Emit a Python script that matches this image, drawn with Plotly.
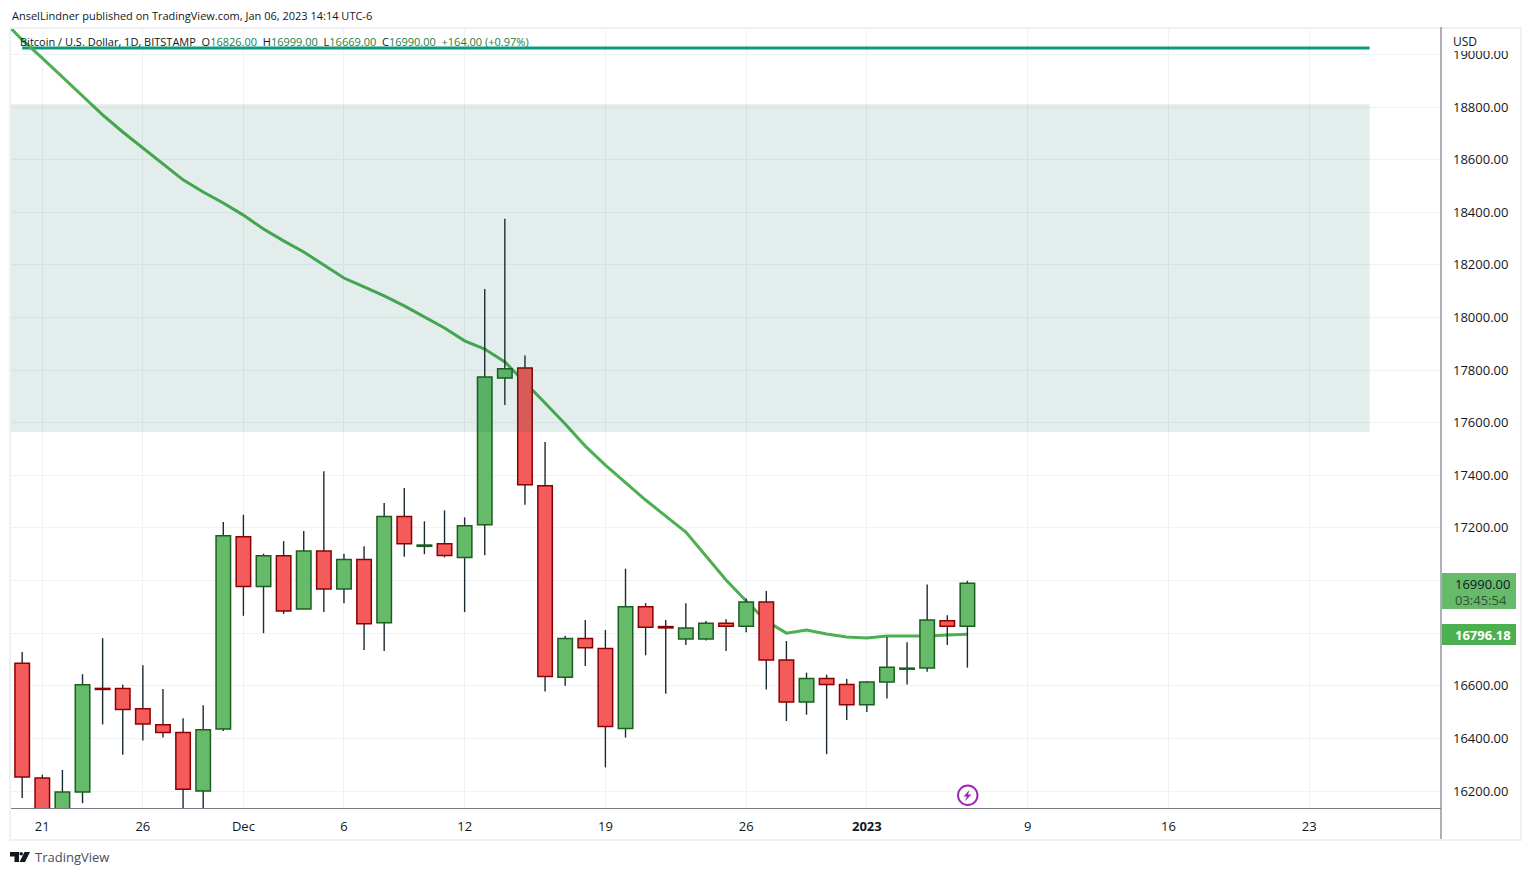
import plotly.graph_objects as go
import pandas as pd

start_date = "2022-11-20"
opens = [16686,16249,16130,16196,16590,16590,16513,16452,16422,16200,16436,17166,16977,17094,16892,17112,16968,17080,16840,17243,17130,17140,17088,17212,17770,17808,17360,16632,16780,16742,16438,16900,16825,16778,16778,16838,16826,16918,16698,16538,16628,16605,16528,16614,16663,16668,16847,16826]
highs = [16728,16262,16280,16644,16781,16604,16678,16588,16477,16526,17223,17250,17102,17150,17188,17415,17102,17130,17295,17352,17225,17267,17240,18108,18375,17855,17527,16790,16850,16812,17045,16914,16850,16914,16846,16853,16932,16960,16770,16650,16642,16626,16618,16785,16765,16985,16868,16999]
lows = [16173,16100,16100,16154,16453,16338,16392,16403,16130,16120,16428,16866,16800,16873,16892,16880,16914,16736,16732,17090,17100,17088,16880,17096,17667,17288,16578,16600,16675,16290,16403,16716,16570,16755,16772,16732,16803,16586,16466,16490,16340,16470,16500,16552,16605,16653,16755,16669]
closes = [16253,16130,16196,16604,16586,16510,16455,16422,16207,16433,17170,16977,17094,16884,17112,16968,17080,16836,17243,17140,17135,17095,17208,17774,17805,17364,16635,16780,16745,16445,16900,16822,16820,16820,16838,16826,16918,16698,16538,16628,16605,16528,16614,16670,16667,16850,16826,16990]
ma_start = "2022-11-19"
ma_values = [19134,19055,18986,18914,18842,18770,18705,18644,18583,18523,18477,18435,18389,18336,18291,18249,18199,18150,18116,18082,18044,18002,17960,17911,17880,17831,17755,17675,17595,17511,17439,17374,17306,17245,17184,17093,17002,16922,16846,16800,16812,16797,16785,16782,16789,16789,16789,16793,16796.18]
tick_dates = ["2022-11-21","2022-11-26","2022-12-01","2022-12-06","2022-12-12","2022-12-19","2022-12-26","2023-01-01","2023-01-09","2023-01-16","2023-01-23"]
tick_labels = ["21","26","Dec","6","12","19","26","<b>2023</b>","9","16","23"]
x_range = ["2022-11-19 09:27","2023-01-29 13:12"]
y_range = [16135.4,19104.1]
price_ticks = [16200+200*i for i in range(15)]
zone_low, zone_high = 17565, 18810
zone_end = "2023-01-26"
level = 19024
last_close = 16990.00
last_ma = 16796.18

FONT = "Open Sans"
INK = "#131722"
W, H = 1531, 875
L, R, T, B = 10, 1441, 27, 808
px = lambda x: (x - L) / (R - L)
py = lambda y: (B - y) / (B - T)

dates = pd.date_range(start_date, periods=len(opens)).strftime("%Y-%m-%d").tolist()
ma_dates = pd.date_range(ma_start, periods=len(ma_values)).strftime("%Y-%m-%d").tolist()

wx, wy = [], []
for d, h, l in zip(dates, highs, lows):
    wx += [d, d, None]
    wy += [l, h, None]

up = [c >= o for o, c in zip(opens, closes)]
fill = ["#66bb6a" if u else "#f45c5c" for u in up]
edge = ["#1b5e20" if u else "#8b0000" for u in up]

fig = go.Figure()
fig.add_trace(go.Scatter(x=[dates[0], zone_end], y=[level, level], mode="lines",
                         line=dict(color="#0f9a80", width=3), hoverinfo="skip"))
fig.add_trace(go.Scatter(x=ma_dates, y=ma_values, mode="lines",
                         line=dict(color="#4caf50", width=3, shape="linear"), hoverinfo="skip"))
fig.add_trace(go.Scatter(x=wx, y=wy, mode="lines", line=dict(color="#1c2a33", width=1.4), hoverinfo="skip"))
fig.add_trace(go.Bar(x=dates, base=[min(o, c) for o, c in zip(opens, closes)],
                     y=[abs(c - o) for o, c in zip(opens, closes)],
                     width=0.72 * 86400000, yaxis="y2",
                     marker=dict(color=fill, line=dict(color=edge, width=1.5)), hoverinfo="skip"))

shapes = []
def rect(x0, y0, x1, y1, fillc=None, line=None, lw=0, layer="above"):
    shapes.append(dict(type="rect", xref="paper", yref="paper", x0=px(x0), x1=px(x1), y0=py(y0), y1=py(y1),
                       fillcolor=fillc or "rgba(0,0,0,0)", line=dict(color=line or "rgba(0,0,0,0)", width=lw), layer=layer))
def path(points, fillc, close=True):
    d = "M " + " L ".join(f"{px(a):.5f},{py(b):.5f}" for a, b in points) + (" Z" if close else "")
    shapes.append(dict(type="path", xref="paper", yref="paper", path=d, fillcolor=fillc,
                       line=dict(color="rgba(0,0,0,0)", width=0), layer="above"))

# resistance zone
shapes.append(dict(type="rect", xref="x", yref="y", x0=x_range[0], x1=zone_end, y0=zone_low, y1=zone_high,
                   fillcolor="rgba(0,90,70,0.11)", line=dict(width=0), layer="above"))
# frame
rect(10, 28, 1521, 840, None, "#eef0f6", 2)
rect(1442, 29, 1520, 51, "#ffffff")
shapes.append(dict(type="line", xref="paper", yref="paper", x0=px(1441), x1=px(1441), y0=py(27), y1=py(839),
                   line=dict(color="#787b86", width=1.2), layer="above"))
# price tags
rect(1442, 573, 1516, 609, "#66bb6a")
rect(1442, 624, 1516, 645, "#4caf50")
# event marker
shapes.append(dict(type="circle", xref="paper", yref="paper", x0=px(958), x1=px(977.5), y0=py(785.5), y1=py(805),
                   fillcolor="rgba(255,255,255,0)", line=dict(color="#9c27b0", width=2), layer="above"))
path([(969.5,790),(963.5,796.5),(966.8,796.5),(965,801),(971.5,794.5),(968,794.5)], "#9c27b0")
# logo
path([(10,852),(19,852),(19,862),(14.5,862),(14.5,856.5),(10,856.5)], "#131722")
path([(24.5,852),(30,852),(25,862),(19.5,862)], "#131722")
shapes.append(dict(type="circle", xref="paper", yref="paper", x0=px(19.4), x1=px(23), y0=py(852), y1=py(855.6),
                   fillcolor="#131722", line=dict(width=0), layer="above"))

G = "#1e7d46"
annos = [
    dict(x=px(10), y=py(15), text="AnselLindner published on TradingView.com, Jan 06, 2023 14:14 UTC-6", size=11, color=INK),
    dict(x=px(18), y=py(42),
         text=f"Bitcoin / U.S. Dollar, 1D, BITSTAMP  O<span style='color:{G}'>16826.00</span>  H<span style='color:{G}'>16999.00</span>  "
              f"L<span style='color:{G}'>16669.00</span>  C<span style='color:{G}'>16990.00</span>  <span style='color:{G}'>+164.00 (+0.97%)</span>",
         size=11, color=INK),
    dict(x=px(1451), y=py(42), text="USD", size=12, color=INK),
    dict(x=px(1453), y=py(584), text=f"{last_close:.2f}", size=13, color=INK),
    dict(x=px(1453), y=py(600), text="03:45:54", size=13, color="#2f5233"),
    dict(x=px(1453), y=py(635), text=f"<b>{last_ma:.2f}</b>", size=13, color="#ffffff"),
    dict(x=px(33), y=py(857), text="TradingView", size=13, color="#4a4e59"),
]
annotations = [dict(xref="paper", yref="paper", x=a["x"], y=a["y"], text=a["text"], showarrow=False,
                    xanchor="left", yanchor="middle", xshift=0, font=dict(family=FONT, size=a["size"], color=a["color"])) for a in annos]

fig.update_layout(
    width=W, height=H, margin=dict(l=L, r=W - R, t=T, b=H - B, pad=0, autoexpand=False),
    paper_bgcolor="#ffffff", plot_bgcolor="#ffffff", showlegend=False, barmode="overlay",
    shapes=shapes, annotations=annotations, font=dict(family=FONT, color=INK, size=13),
    xaxis=dict(type="date", range=x_range, tickmode="array", tickvals=tick_dates, ticktext=tick_labels,
               showgrid=True, gridcolor="#f0f3f6", gridwidth=1, showline=True, linecolor="#787b86", linewidth=1.2,
               ticks="", zeroline=False, rangeslider=dict(visible=False), tickangle=0, ticklabelstandoff=6,
               tickfont=dict(family=FONT, size=13, color=INK)),
    yaxis=dict(range=y_range, side="right", tickmode="array", tickvals=price_ticks, tickformat=".2f",
               showgrid=True, gridcolor="#f0f3f6", gridwidth=1, zeroline=False, ticks="", ticklabelstandoff=11,
               tickfont=dict(family=FONT, size=13, color=INK)),
    yaxis2=dict(range=y_range, overlaying="y", side="right", visible=False),
)
fig.write_html("out.html", config=dict(displayModeBar=False),
               post_script="document.body.style.margin='0';document.body.style.overflow='hidden';")
